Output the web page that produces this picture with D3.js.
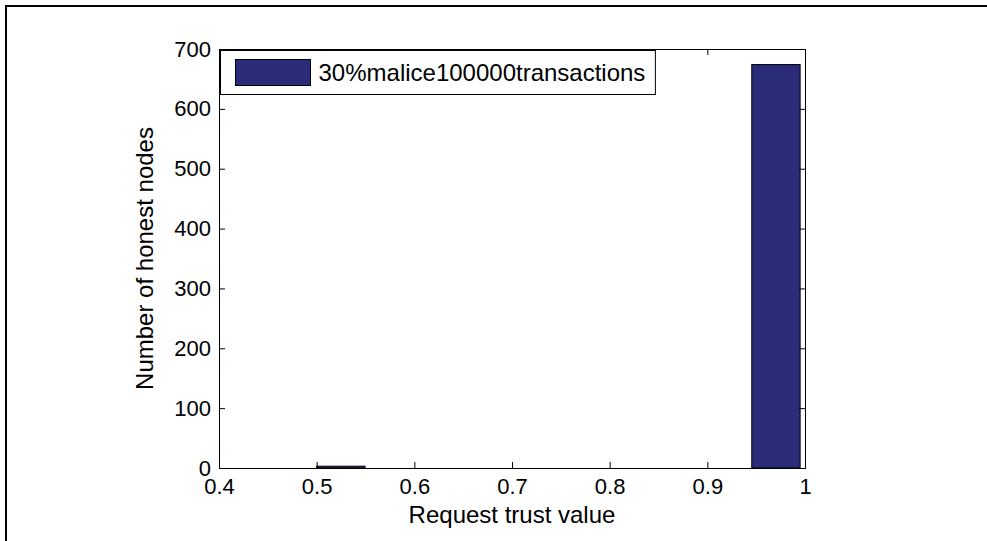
<!DOCTYPE html>
<html>
<head>
<meta charset="utf-8">
<script src="https://cdn.jsdelivr.net/npm/d3@7"></script>
<style>
  body { margin: 0; background: #fff; }
  svg { display: block; font-family: Arial, "Liberation Sans", sans-serif; }
</style>
</head>
<body>
<div id="chart"></div>
<script>
// histogram bins (edges) and counts
const binEdges = [0.5, 0.5495, 0.599, 0.6485, 0.698, 0.7475, 0.797, 0.8465, 0.896, 0.9455, 0.995];
const counts = [3, 0, 0, 0, 0, 0, 0, 0, 0, 674];
const xTicks = [0.4, 0.5, 0.6, 0.7, 0.8, 0.9, 1];
const yTicks = [0, 100, 200, 300, 400, 500, 600, 700];
const legendLabel = '30%malice100000transactions';

const W = 987, H = 541;
const margin = { top: 49, right: 182, bottom: 73, left: 219 };
const width = W - margin.left - margin.right;
const height = H - margin.top - margin.bottom;
const barColor = '#2a2c7a';

const svg = d3.select('#chart').append('svg')
  .attr('width', W).attr('height', H);

// outer frame (only left and top edges are visible)
svg.append('path')
  .attr('d', `M6,${H} V6 H${W}`)
  .attr('fill', 'none').attr('stroke', '#000').attr('stroke-width', 2);

const g = svg.append('g').attr('transform', `translate(${margin.left},${margin.top})`);

const x = d3.scaleLinear().domain([0.4, 1]).range([0, width]);
const y = d3.scaleLinear().domain([0, 700]).range([height, 0]);

// bars
const bins = counts.map((c, i) => ({ x0: binEdges[i], x1: binEdges[i + 1], c }));
g.selectAll('.bar')
  .data(bins)
  .enter()
  .append('rect')
  .attr('class', 'bar')
  .attr('x', d => x(d.x0))
  .attr('width', d => x(d.x1) - x(d.x0))
  .attr('y', d => y(d.c))
  .attr('height', d => y(0) - y(d.c))
  .attr('fill', barColor)
  .attr('stroke', '#000')
  .attr('stroke-width', 1);

// axes, MATLAB style: ticks inside on all four sides
const tickLen = 6;
const xAxis = g.append('g')
  .attr('transform', `translate(0,${height})`)
  .call(d3.axisBottom(x).tickValues(xTicks).tickSize(-tickLen).tickPadding(10)
    .tickFormat(d => d === 1 ? '1' : d3.format('.1f')(d)));
const xTop = g.append('g')
  .call(d3.axisTop(x).tickValues(xTicks).tickSize(-tickLen).tickFormat(''));
const yAxis = g.append('g')
  .call(d3.axisLeft(y).tickValues(yTicks).tickSize(-tickLen).tickPadding(8));
const yRight = g.append('g')
  .attr('transform', `translate(${width},0)`)
  .call(d3.axisRight(y).tickValues(yTicks).tickSize(-tickLen).tickFormat(''));

[xAxis, xTop, yAxis, yRight].forEach(a => {
  a.select('.domain').attr('stroke', '#000').attr('stroke-width', 1);
  a.selectAll('.tick line').attr('stroke', '#000');
  a.selectAll('text').attr('fill', '#000').style('font-size', '22px')
    .style('font-family', 'Arial, "Liberation Sans", sans-serif');
});
xAxis.selectAll('.tick text').attr('dy', '0.71em');

// axis labels
g.append('text')
  .attr('x', width / 2).attr('y', height + 55)
  .attr('text-anchor', 'middle')
  .style('font-size', '24px')
  .text('Request trust value');

g.append('text')
  .attr('transform', `translate(-66,${height / 2}) rotate(-90)`)
  .attr('text-anchor', 'middle')
  .style('font-size', '24px')
  .text('Number of honest nodes');

// legend
const legend = g.append('g').attr('transform', 'translate(1.5,1.5)');
const legendText = legend.append('text')
  .attr('x', 98).attr('y', 22)
  .attr('dy', '0.35em')
  .style('font-size', '24px')
  .text(legendLabel);
const tw = legendText.node().getComputedTextLength();
legend.insert('rect', 'text')
  .attr('width', 98 + tw + 10).attr('height', 44)
  .attr('fill', '#fff').attr('stroke', '#000').attr('stroke-width', 1);
legend.append('rect')
  .attr('x', 15).attr('y', 9).attr('width', 75).attr('height', 26)
  .attr('fill', barColor).attr('stroke', '#000').attr('stroke-width', 1);
</script>
</body>
</html>
